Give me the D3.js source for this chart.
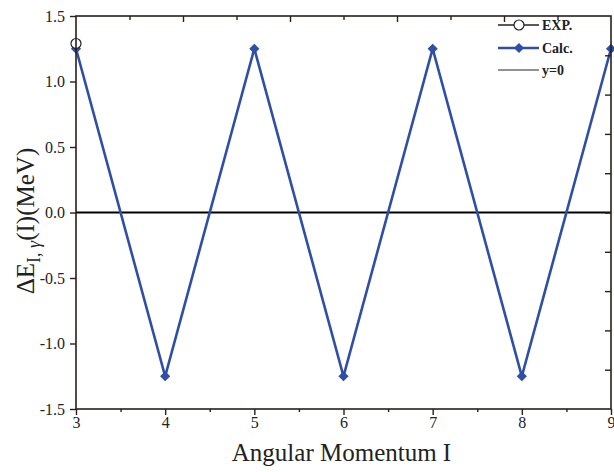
<!DOCTYPE html>
<html><head><meta charset="utf-8">
<script src="https://cdn.jsdelivr.net/npm/d3@7"></script>
<style>body{margin:0;background:#fff}svg{display:block}</style>
</head><body>
<svg id="c" width="614" height="472"></svg>
<script>
const angularMomentum = [3, 4, 5, 6, 7, 8, 9];
const calcValues = [1.25, -1.25, 1.25, -1.25, 1.25, -1.25, 1.25];
const expI = [3];
const expValues = [1.29];
const xTicks = [3, 4, 5, 6, 7, 8, 9];
const yTicks = [-1.5, -1.0, -0.5, 0.0, 0.5, 1.0, 1.5];
const legendLabels = ["EXP.", "Calc.", "y=0"];

const svg = d3.select("#c");
const L = 76, R = 611, T = 16, B = 409;
const x = d3.scaleLinear().domain([3, 9]).range([L, R]);
const y = d3.scaleLinear().domain([-1.5, 1.5]).range([B, T]);
const axisColor = "#2a1f1a";
const blue = "#2f4fa6";
const font = "Liberation Serif";
const diamond = d3.symbol().type(d3.symbolSquare).size(52);

// zero line
svg.append("line").attr("x1", L).attr("x2", R).attr("y1", y(0)).attr("y2", y(0))
  .attr("stroke", "#000").attr("stroke-width", 2);

// calc line
const line = d3.line().x((d, i) => x(angularMomentum[i])).y(d => y(d));
svg.append("path").datum(calcValues).attr("d", line).attr("fill", "none")
  .attr("stroke", blue).attr("stroke-width", 2.6);
svg.selectAll(".dia").data(calcValues).enter().append("path")
  .attr("d", diamond)
  .attr("transform", (d, i) => `translate(${x(angularMomentum[i])},${y(d)}) rotate(45)`)
  .attr("fill", blue);

// exp
svg.selectAll(".exp").data(expValues).enter().append("circle")
  .attr("cx", (d, i) => x(expI[i])).attr("cy", d => y(d)).attr("r", 5)
  .attr("fill", "#fff").attr("stroke", "#222").attr("stroke-width", 1.2);

// axes
const bottom = d3.axisBottom(x).tickValues(xTicks).tickSize(6).tickFormat(d3.format("d"));
const gb = svg.append("g").attr("transform", `translate(0,${B})`).call(bottom);
const bMinor = d3.axisBottom(x).tickValues(d3.range(3.5, 9, 1)).tickSize(3).tickFormat("");
svg.append("g").attr("transform", `translate(0,${B})`).call(bMinor);

const fmt = d3.format(".1f");
const left = d3.axisLeft(y).tickValues(yTicks).tickSize(6).tickPadding(5)
  .tickFormat(d => fmt(d).replace("−", "-"));
svg.append("g").attr("transform", `translate(${L},0)`).call(left);

// top axis: 10 intervals, alternating
const xt = d3.scaleLinear().domain([0, 10]).range([L, R]);
svg.append("g").attr("transform", `translate(0,${T})`)
  .call(d3.axisBottom(xt).tickValues([1, 3, 5, 7, 9]).tickSize(4).tickFormat(""));
svg.append("g").attr("transform", `translate(0,${T})`)
  .call(d3.axisBottom(xt).tickValues([2, 4, 6, 8]).tickSize(6).tickFormat(""));
// right axis
const yr = d3.scaleLinear().domain([0, 10]).range([B, T]);
svg.append("g").attr("transform", `translate(${R},0)`)
  .call(d3.axisLeft(yr).tickValues(d3.range(1, 10)).tickSize(6).tickFormat(""));

svg.selectAll("g").attr("font-family", font);
svg.selectAll(".domain").remove();
svg.selectAll(".tick line").attr("stroke", axisColor).attr("stroke-width", 1.4);
svg.selectAll(".tick text").attr("font-family", font).style("font-family", font)
  .attr("font-size", 16).attr("fill", "#222");
gb.selectAll(".tick text").attr("dy", "0.6em");

// frame
svg.append("rect").attr("x", L).attr("y", T).attr("width", R - L).attr("height", B - T)
  .attr("fill", "none").attr("stroke", axisColor).attr("stroke-width", 1.6);

// axis labels
svg.append("text").attr("x", (L + R) / 2 - 2).attr("y", 461).attr("text-anchor", "middle")
  .attr("font-family", font).attr("font-size", 25).attr("fill", "#222").text("Angular Momentum I");
const yl = svg.append("text").attr("transform", `translate(34,221) rotate(-90)`)
  .attr("text-anchor", "middle").attr("font-family", font).attr("font-size", 25).attr("fill", "#222");
yl.append("tspan").text("ΔE");
yl.append("tspan").attr("font-size", 18).attr("dy", 6).text("I, ");
yl.append("tspan").attr("font-size", 18).attr("font-style", "italic").text("γ");
yl.append("tspan").attr("dy", -6).text("(I)(MeV)");

// legend
const lg = svg.append("g");
const rows = [25, 48, 70];
lg.append("line").attr("x1", 498).attr("x2", 539).attr("y1", rows[0]).attr("y2", rows[0]).attr("stroke", "#222").attr("stroke-width", 1.6);
lg.append("circle").attr("cx", 519).attr("cy", rows[0]).attr("r", 5).attr("fill", "#fff").attr("stroke", "#222").attr("stroke-width", 1.2);
lg.append("line").attr("x1", 498).attr("x2", 539).attr("y1", rows[1]).attr("y2", rows[1]).attr("stroke", blue).attr("stroke-width", 2.6);
lg.append("path").attr("d", diamond).attr("transform", `translate(519,${rows[1]}) rotate(45)`).attr("fill", blue);
lg.append("line").attr("x1", 498).attr("x2", 539).attr("y1", rows[2]).attr("y2", rows[2]).attr("stroke", "#222").attr("stroke-width", 1);
legendLabels.forEach((t, i) => {
  lg.append("text").attr("x", 542).attr("y", rows[i] + 5).attr("font-family", font)
    .attr("font-weight", "bold").attr("font-size", 14).attr("fill", "#222").text(t);
});
</script>
</body></html>
